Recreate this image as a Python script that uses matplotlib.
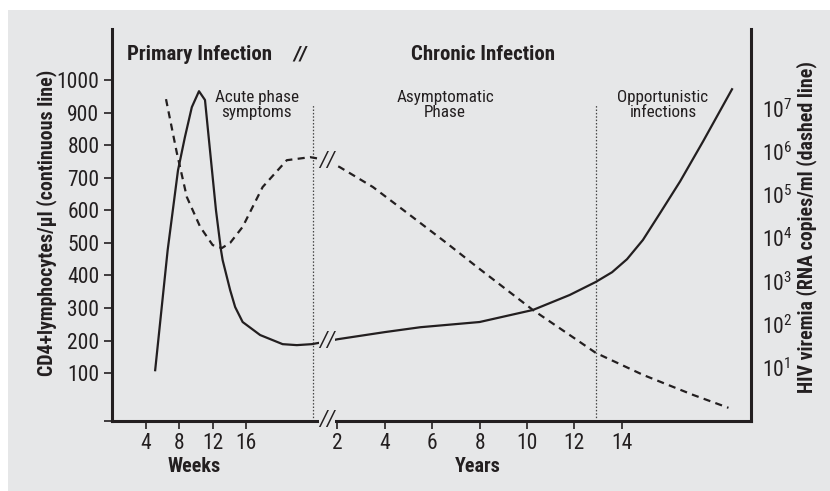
import numpy as np
import matplotlib
matplotlib.use('Agg')
import matplotlib.pyplot as plt
from matplotlib.ticker import FixedLocator, NullFormatter

######################## data ########################
# CD4 count (continuous line), primary infection, x in weeks
cd4_weeks = [5.1, 6.6, 7.84, 8.67, 9.5, 10.36, 11.08, 11.44, 11.92, 12.4, 13.0, 13.2, 14.1, 14.7, 15.6, 17.7, 20.4, 22.1, 23.9, 25.2]
cd4_weeks_val = [109, 478, 723, 825, 917, 966, 939, 846, 723, 600, 478, 447, 355, 303, 257, 217, 189, 186, 189, 195]
# CD4 count, chronic infection, x in years
cd4_years = [1.56, 2.0, 4.0, 5.5, 8.0, 10.25, 11.8, 12.9, 13.59, 14.22, 14.89, 15.61, 16.46, 17.43, 18.65]
cd4_years_val = [197, 204, 226, 241, 257, 294, 340, 380, 410, 450, 509, 591, 689, 812, 972]

# HIV viremia (dashed line), log10 copies/ml
vir_weeks = [6.4, 7.7, 8.9, 10.5, 12.0, 13.1, 14.1, 15.6, 18.0, 20.9, 23.7, 25.2]
vir_weeks_log = [7.21, 5.97, 4.95, 4.26, 3.84, 3.77, 3.89, 4.26, 5.18, 5.80, 5.87, 5.82]
vir_years = [1.56, 2.1, 3.5, 4.9, 6.6, 7.9, 10.25, 12.1, 12.9, 14.9, 17.0, 18.5]
vir_years_log = [5.78, 5.64, 5.18, 4.60, 3.89, 3.33, 2.34, 1.65, 1.35, 0.84, 0.38, 0.08]

week_ticks = [4, 8, 12, 16]
year_ticks = [2, 4, 6, 8, 10, 12, 14]
cd4_ticks = [100, 200, 300, 400, 500, 600, 700, 800, 900, 1000]
vir_ticks_exp = [1, 2, 3, 4, 5, 6, 7]

acute_end_week = 24
opportunistic_start_year = 12.9
break_year = 1.56

######################## style ########################
font = 'Roboto Condensed'
plt.rcParams['font.family'] = [font, 'DejaVu Sans']
plt.rcParams['mathtext.fontset'] = 'custom'
plt.rcParams['mathtext.rm'] = font
ink = '#231f20'
bg = '#e6e7e8'

# weeks are squeezed in front of the year scale
W0 = -7.48
WS = 0.3515
def wk(w):
    return W0 + WS * np.asarray(w, dtype=float)

fig = plt.figure(figsize=(8.3, 4.91), dpi=100)
fig.patch.set_facecolor('white')
fig.patches.append(plt.Rectangle((8 / 830, 0), 1, 1 - 10 / 491, transform=fig.transFigure,
                                 facecolor=bg, edgecolor='none', zorder=-10))

ax = fig.add_axes([0.1349, 0.1426, 0.7699, 0.7983])
ax.set_facecolor('none')
ax2 = ax.twinx()
ax2.set_facecolor('none')

ymin, ymax = -47, 1157
ax.set_xlim(-7.51, 19.45)
ax.set_ylim(ymin, ymax)
ax2.set_yscale('log')
ax2.set_ylim(10 ** -0.224, 10 ** 8.83)

# curves
ax.plot(wk(cd4_weeks), cd4_weeks_val, color=ink, lw=1.6, zorder=3)
ax.plot(cd4_years, cd4_years_val, color=ink, lw=1.6, zorder=3)
ax2.plot(wk(vir_weeks), 10 ** np.array(vir_weeks_log), color=ink, lw=1.6, ls=(0, (3.2, 2.4)), zorder=3)
ax2.plot(vir_years, 10 ** np.array(vir_years_log), color=ink, lw=1.6, ls=(0, (3.2, 2.4)), zorder=3)

# phase boundaries
top_line = 926
ax.vlines([wk(acute_end_week), opportunistic_start_year], ymin, top_line, colors='#444444',
          linestyles=(0, (1.2, 1.5)), lw=0.9, zorder=2)

# spines
for s in ['left', 'bottom']:
    ax.spines[s].set_linewidth(2.2)
    ax.spines[s].set_color(ink)
for s in ['left', 'bottom', 'top']:
    ax2.spines[s].set_visible(False)
ax.spines['top'].set_visible(False)
ax.spines['right'].set_visible(False)
ax2.spines['right'].set_linewidth(2.2)
ax2.spines['right'].set_color(ink)

# ticks
xt = list(wk(week_ticks)) + year_ticks
ax.set_xticks(xt, [str(w) for w in week_ticks] + [str(y) for y in year_ticks])
ax.set_yticks([ymin] + cd4_ticks, [''] + [str(v) for v in cd4_ticks])
ax.tick_params(axis='both', colors=ink, labelsize=15.5, width=1.2, length=6, direction='out')
ax.tick_params(axis='x', pad=3)
ax.tick_params(axis='y', pad=3)

ax2.yaxis.set_major_locator(FixedLocator([10.0 ** e for e in vir_ticks_exp]))
ax2.set_yticklabels([r'$\mathregular{10^{%d}}$' % e for e in vir_ticks_exp])
ax2.yaxis.set_minor_locator(FixedLocator([1e7]))
ax2.yaxis.set_minor_formatter(NullFormatter())
ax2.tick_params(axis='y', which='major', length=0, pad=8, labelsize=15.5, colors=ink)
ax2.tick_params(axis='y', which='minor', length=6, width=1.2, colors=ink)

# break marks
brk = dict(ha='center', va='center', fontsize=16, color=ink, style='italic',
           bbox=dict(facecolor=bg, edgecolor='none', pad=0), zorder=5)
ax.text(break_year, ymin, '//', clip_on=False, **brk)
ax.text(break_year, np.interp(break_year, cd4_years, cd4_years_val), '//', **brk)
ax2.text(break_year, 10 ** vir_years_log[0], '//', **brk)

# headers and phase labels
ax.text(-3.80, 1080, 'Primary Infection', ha='center', va='center', fontsize=15,
        fontweight='bold', color=ink)
ax.text(0.42, 1080, '//', ha='center', va='center', fontsize=15, fontweight='bold',
        style='italic', color=ink)
ax.text(8.14, 1080, 'Chronic Infection', ha='center', va='center', fontsize=15,
        fontweight='bold', color=ink)
for x, t in [(wk(17.3), 'Acute phase\nsymptoms'), (6.54, 'Asymptomatic\nPhase'),
             (15.74, 'Opportunistic\ninfections')]:
    ax.text(x, 923, t, ha='center', va='center', fontsize=12.3, linespacing=1.0, color=ink)

ax.text(wk(9.76), -0.117, 'Weeks', transform=ax.get_xaxis_transform(), ha='center', va='center',
        fontsize=14.5, fontweight='bold', color=ink)
ax.text(7.93, -0.117, 'Years', transform=ax.get_xaxis_transform(), ha='center', va='center',
        fontsize=14.5, fontweight='bold', color=ink)

fig.text(47 / 830, 1 - 223 / 491, 'CD4+lymphocytes/µl (continuous line)', rotation=90,
         ha='center', va='center', fontsize=14.3, fontweight='bold', color=ink)
fig.text(807 / 830, 1 - 227 / 491, 'HIV viremia (RNA copies/ml (dashed line)', rotation=90,
         ha='center', va='center', fontsize=14.3, fontweight='bold', color=ink)

fig.savefig('out.png', dpi=100, facecolor=fig.get_facecolor())
